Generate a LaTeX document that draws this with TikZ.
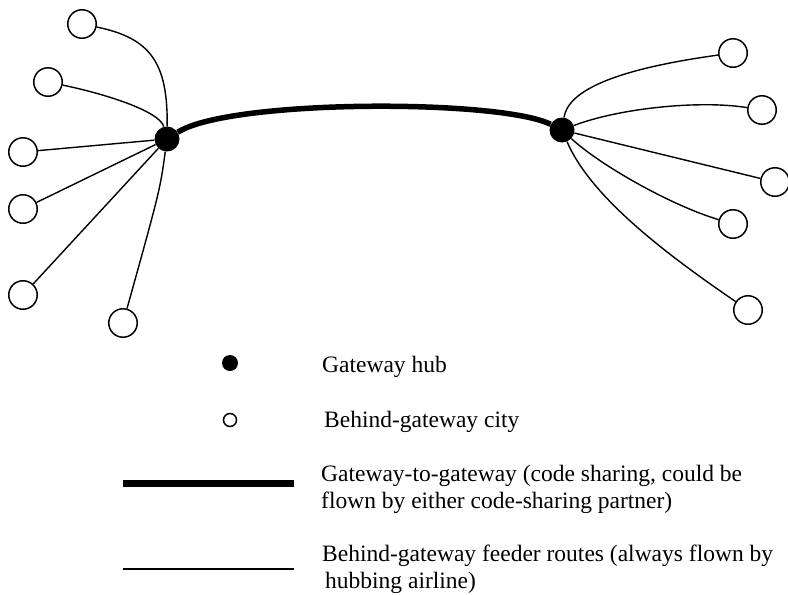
\documentclass[tikz,border=0pt]{standalone}
\usepackage{fontspec}
\setmainfont{Liberation Serif}
\begin{document}
\begin{tikzpicture}[x=1pt,y=-1pt,
  hub/.style={circle,fill=black,inner sep=0pt,minimum size=25pt},
  city/.style={circle,draw=black,line width=1.5pt,fill=white,inner sep=0pt,minimum size=28.5pt},
  feeder/.style={line width=1.4pt},
  trunk/.style={line width=5.5pt},
  legtext/.style={anchor=base west,inner sep=0pt,font=\fontsize{23.5}{27}\selectfont,align=left}]
\useasboundingbox (0,0) rectangle (788,595);

% gateway hubs
\node[hub] (hl) at (167,139) {};
\node[hub] (hr) at (562,130) {};

% behind-gateway cities, left side
\node[city] (l1) at (82,24) {};
\node[city] (l2) at (48,82) {};
\node[city] (l3) at (23,152) {};
\node[city] (l4) at (23,209) {};
\node[city] (l5) at (23,295) {};
\node[city] (l6) at (123,323) {};

% behind-gateway cities, right side
\node[city] (r1) at (733,53) {};
\node[city] (r2) at (762,110) {};
\node[city] (r3) at (775,182) {};
\node[city] (r4) at (733,224) {};
\node[city] (r5) at (748,310) {};

% gateway-to-gateway route
\draw[trunk] (hl) .. controls (230,99) and (500,99) .. (hr);

% feeder routes, left
\draw[feeder] (hl) .. controls (168,62) and (150,38) .. (l1);
\draw[feeder] (hl) .. controls (160,112) and (110,95) .. (l2);
\draw[feeder] (hl) -- (l3);
\draw[feeder] (hl) -- (l4);
\draw[feeder] (hl) -- (l5);
\draw[feeder] (hl) .. controls (160,190) .. (l6);

% feeder routes, right
\draw[feeder] (hr) .. controls (568,92) and (610,70) .. (r1);
\draw[feeder] (hr) .. controls (620,108) and (700,100) .. (r2);
\draw[feeder] (hr) -- (r3);
\draw[feeder] (hr) .. controls (600,165) and (670,205) .. (r4);
\draw[feeder] (hr) .. controls (590,195) and (660,250) .. (r5);

% legend
\node[circle,fill=black,inner sep=0pt,minimum size=16pt] (kh) at (230,363) {};
\node[circle,draw=black,line width=1.5pt,inner sep=0pt,minimum size=13pt] (kc) at (230,420) {};
\coordinate (ka) at (123,483);
\coordinate (kb) at (294,483);
\draw[line width=7pt] (ka) -- (kb);
\coordinate (kd) at (123,569);
\coordinate (ke) at (294,569);
\draw[line width=1.6pt] (kd) -- (ke);

\node[legtext] (t1) at (322,372) {Gateway hub};
\node[legtext] (t2) at (324,427) {Behind-gateway city};
\node[legtext] (t3) at (321,481) {Gateway-to-gateway (code sharing, could be};
\node[legtext] (t3b) at (321,508) {flown by either code-sharing partner)};
\node[legtext] (t4) at (322,561) {Behind-gateway feeder routes (always flown by};
\node[legtext] (t4b) at (325,588) {hubbing airline)};
\end{tikzpicture}
\end{document}
